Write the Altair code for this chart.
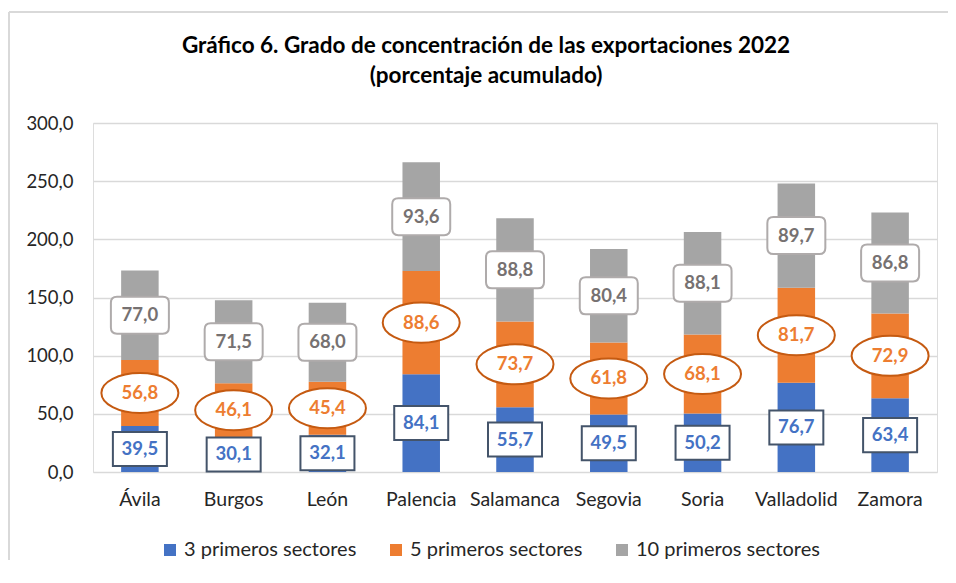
import altair as alt
import pandas as pd

provincias = ["Ávila", "Burgos", "León", "Palencia", "Salamanca", "Segovia", "Soria", "Valladolid", "Zamora"]
series = ["3 primeros sectores", "5 primeros sectores", "10 primeros sectores"]
v3 = [39.5, 30.1, 32.1, 84.1, 55.7, 49.5, 50.2, 76.7, 63.4]
v5 = [56.8, 46.1, 45.4, 88.6, 73.7, 61.8, 68.1, 81.7, 72.9]
v10 = [77.0, 71.5, 68.0, 93.6, 88.8, 80.4, 88.1, 89.7, 86.8]
y_ticks = [0, 50, 100, 150, 200, 250, 300]

bar_colors = ["#4472C4", "#ED7D31", "#A5A5A5"]
text_colors = ["#4472C4", "#ED7D31", "#767171"]
box_strokes = ["#44546A", "#C55A11", "#AFABAB"]

FONT = "Lato"

rows = []
for i, p in enumerate(provincias):
    start = 0.0
    for k, (s, vals) in enumerate(zip(series, [v3, v5, v10])):
        v = vals[i]
        rows.append({
            "provincia": p, "serie": s, "orden": k, "valor": v,
            "start": start, "end": start + v, "mid": start + v / 2,
            "label": f"{v:.1f}".replace(".", ","),
        })
        start += v
df = pd.DataFrame(rows)

# label shapes (unit box -1..1, scaled by sqrt(size))
rect_path = "M-1,-0.63H1V0.63H-1Z"
k = 0.5523
b = 0.52
ellipse_path = (f"M1,0C1,{k*b:.4f} {k:.4f},{b} 0,{b}C{-k:.4f},{b} -1,{k*b:.4f} -1,0"
                f"C-1,{-k*b:.4f} {-k:.4f},{-b} 0,{-b}C{k:.4f},{-b} 1,{-k*b:.4f} 1,0Z")
hh = 0.638
r = 0.21
round_path = (f"M{-1+r},{-hh}H{1-r}Q1,{-hh} 1,{-hh+r}V{hh-r}Q1,{hh} {1-r},{hh}"
              f"H{-1+r}Q-1,{hh} -1,{hh-r}V{-hh+r}Q-1,{-hh} {-1+r},{-hh}Z")
shapes = [(rect_path, 54 ** 2), (ellipse_path, 77 ** 2), (round_path, 58 ** 2)]

x_enc = alt.X("provincia:N", sort=provincias, title=None,
              scale=alt.Scale(paddingInner=0.6, paddingOuter=0.3),
              axis=alt.Axis(labelAngle=0, labelFontSize=19.5, labelFont=FONT, labelColor="#262626",
                            domain=False, ticks=False, labelPadding=18))

bars = alt.Chart(df).mark_bar().encode(
    x=x_enc,
    y=alt.Y("start:Q", title=None, scale=alt.Scale(domain=[0, 300], nice=False),
            axis=alt.Axis(values=y_ticks, labelExpr="replace(format(datum.value, '.1f'), '.', ',')",
                          labelFontSize=18.5, labelFont=FONT, labelColor="#262626",
                          domain=False, ticks=False, labelPadding=20,
                          gridColor="#D9D9D9", gridWidth=1.5)),
    y2="end:Q",
    color=alt.Color("serie:N", scale=alt.Scale(domain=series, range=bar_colors),
                    legend=alt.Legend(title=None, orient="none", legendX=67, legendY=417,
                                      direction="horizontal", symbolType="square", symbolSize=144,
                                      symbolStrokeWidth=0, labelFontSize=20, labelFont=FONT,
                                      labelColor="#262626", labelOffset=4, columnPadding=29,
                                      labelLimit=400, padding=0)),
    order=alt.Order("orden:Q"),
)

layers = [bars]
for i, s in enumerate(series):
    sub = df[df["serie"] == s]
    path, size = shapes[i]
    layers.append(alt.Chart(sub).mark_point(shape=path, size=size, filled=True, fill="white",
                                            stroke=box_strokes[i], strokeWidth=2, opacity=1).encode(
        x=alt.X("provincia:N", sort=provincias), y=alt.Y("mid:Q")))
    layers.append(alt.Chart(sub).mark_text(font=FONT, fontSize=18.5, fontWeight="bold",
                                           color=text_colors[i], baseline="middle").encode(
        x=alt.X("provincia:N", sort=provincias), y=alt.Y("mid:Q"), text="label:N"))

dummy = pd.DataFrame({"d": [0]})
border_left = alt.Chart(dummy).mark_rule(color="#D9D9D9", strokeWidth=2).encode(
    x=alt.value(-84), y=alt.value(-111), y2=alt.value(440))
border_top = alt.Chart(dummy).mark_rule(color="#D9D9D9", strokeWidth=2).encode(
    x=alt.value(-84), x2=alt.value(855), y=alt.value(-111))
layers += [border_left, border_top]

chart = alt.layer(*layers).properties(
    width=844, height=349,
    title=alt.Title(["Gráfico 6. Grado de concentración de las exportaciones 2022", "(porcentaje acumulado)"],
                    font=FONT, fontSize=22.5, fontWeight="bold", color="#000000",
                    anchor="middle", frame="group", dx=-29, lineHeight=30, offset=-76),
    autosize=alt.AutoSizeParams(type="none"),
    padding={"left": 85, "right": 11, "top": 115, "bottom": 88},
).configure_view(strokeWidth=0).configure(background="white")

chart.save("out.html", embed_options={"renderer": "svg", "actions": False})
